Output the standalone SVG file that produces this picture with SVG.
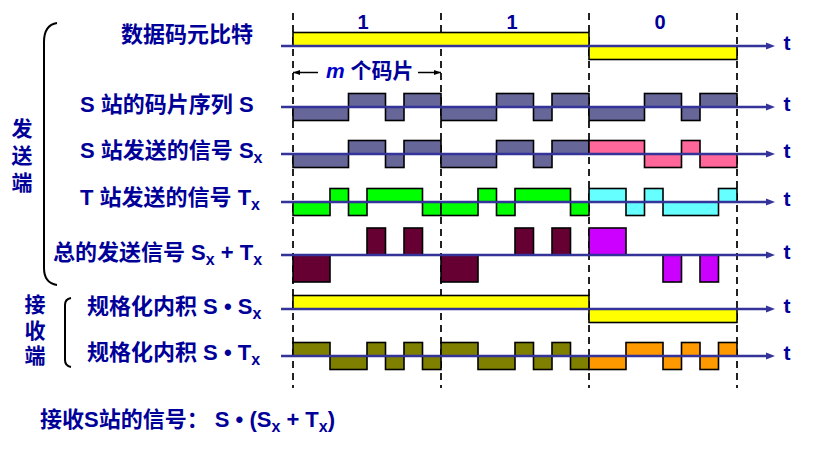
<svg xmlns="http://www.w3.org/2000/svg" width="819" height="455" viewBox="0 0 819 455">
<defs>
<marker id="ah" markerWidth="9" markerHeight="8" refX="1" refY="4" orient="auto" markerUnits="userSpaceOnUse"><path d="M0,0.5 L9,4 L0,7.5 z" fill="#333399"/></marker>
<marker id="mk" markerWidth="7" markerHeight="6" refX="7" refY="3" orient="auto" markerUnits="userSpaceOnUse"><path d="M0,0.5 L7,3 L0,5.5 z" fill="#000"/></marker>
<style>
text{font-family:"Liberation Sans","Noto Sans CJK SC",sans-serif;font-weight:bold;fill:#000099;}
.lbl{font-size:22px;}
.sub{font-size:16px;}
.t{font-size:21px;text-anchor:middle;}
.bit{font-size:20px;text-anchor:middle;}
.vt{font-size:21px;text-anchor:middle;}
.axis{stroke:#333399;stroke-width:2.5;marker-end:url(#ah);}
.dash{stroke:#222;stroke-width:2;stroke-dasharray:7 5;}
rect{stroke:#000;stroke-width:1.6;}
.yel{fill:#FFFF00;}
.sl{fill:#666699;}
.pk{fill:#FF6699;}
.gr{fill:#00FF00;}
.cy{fill:#66FFFF;}
.mr{fill:#660033;}
.mg{fill:#CC00FF;}
.ol{fill:#808000;}
.or{fill:#FF9900;}
.br{fill:none;stroke:#000;stroke-width:2;}
</style>
</defs>

<g id="grid">
<line class="dash" x1="293" y1="13" x2="293" y2="388"/>
<line class="dash" x1="441" y1="13" x2="441" y2="388"/>
<line class="dash" x1="589" y1="13" x2="589" y2="388"/>
<line class="dash" x1="737" y1="13" x2="737" y2="388"/>
</g>

<g id="bits">
<text class="bit" x="363" y="29">1</text>
<text class="bit" x="512" y="29">1</text>
<text class="bit" x="660" y="29">0</text>
</g>

<g id="mchips">
<line x1="318" y1="72.5" x2="293" y2="72.5" stroke="#000" stroke-width="1.5" marker-end="url(#mk)"/>
<line x1="418" y1="72.5" x2="441" y2="72.5" stroke="#000" stroke-width="1.5" marker-end="url(#mk)"/>
<text style="font-size:21px" x="326" y="78"><tspan font-style="italic" fill="#0000CC">m</tspan> 个码片</text>
</g>

<g id="row-data">
<rect class="yel" x="293" y="32.5" width="296" height="13.5"/>
<rect class="yel" x="589" y="46" width="148" height="13.5"/>
<text class="lbl" x="121" y="42">数据码元比特</text>
</g>

<g id="row-s">
<rect class="sl" x="293" y="107" width="55.5" height="13.5"/>
<rect class="sl" x="348.5" y="93.5" width="37" height="13.5"/>
<rect class="sl" x="385.5" y="107" width="18.5" height="13.5"/>
<rect class="sl" x="404" y="93.5" width="37" height="13.5"/>
<rect class="sl" x="441" y="107" width="55.5" height="13.5"/>
<rect class="sl" x="496.5" y="93.5" width="37" height="13.5"/>
<rect class="sl" x="533.5" y="107" width="18.5" height="13.5"/>
<rect class="sl" x="552" y="93.5" width="37" height="13.5"/>
<rect class="sl" x="589" y="107" width="55.5" height="13.5"/>
<rect class="sl" x="644.5" y="93.5" width="37" height="13.5"/>
<rect class="sl" x="681.5" y="107" width="18.5" height="13.5"/>
<rect class="sl" x="700" y="93.5" width="37" height="13.5"/>
<text class="lbl" x="80" y="112">S 站的码片序列 S</text>
</g>

<g id="row-sx">
<rect class="sl" x="293" y="154" width="55.5" height="13.5"/>
<rect class="sl" x="348.5" y="140.5" width="37" height="13.5"/>
<rect class="sl" x="385.5" y="154" width="18.5" height="13.5"/>
<rect class="sl" x="404" y="140.5" width="37" height="13.5"/>
<rect class="sl" x="441" y="154" width="55.5" height="13.5"/>
<rect class="sl" x="496.5" y="140.5" width="37" height="13.5"/>
<rect class="sl" x="533.5" y="154" width="18.5" height="13.5"/>
<rect class="sl" x="552" y="140.5" width="37" height="13.5"/>
<rect class="pk" x="589" y="140.5" width="55.5" height="13.5"/>
<rect class="pk" x="644.5" y="154" width="37" height="13.5"/>
<rect class="pk" x="681.5" y="140.5" width="18.5" height="13.5"/>
<rect class="pk" x="700" y="154" width="37" height="13.5"/>
<text class="lbl" x="80" y="158">S 站发送的信号 S<tspan class="sub" dy="5">x</tspan></text>
</g>

<g id="row-tx">
<rect class="gr" x="293" y="202" width="37" height="13.5"/>
<rect class="gr" x="330" y="188.5" width="18.5" height="13.5"/>
<rect class="gr" x="348.5" y="202" width="18.5" height="13.5"/>
<rect class="gr" x="367" y="188.5" width="55.5" height="13.5"/>
<rect class="gr" x="422.5" y="202" width="18.5" height="13.5"/>
<rect class="gr" x="441" y="202" width="37" height="13.5"/>
<rect class="gr" x="478" y="188.5" width="18.5" height="13.5"/>
<rect class="gr" x="496.5" y="202" width="18.5" height="13.5"/>
<rect class="gr" x="515" y="188.5" width="55.5" height="13.5"/>
<rect class="gr" x="570.5" y="202" width="18.5" height="13.5"/>
<rect class="cy" x="589" y="188.5" width="37" height="13.5"/>
<rect class="cy" x="626" y="202" width="18.5" height="13.5"/>
<rect class="cy" x="644.5" y="188.5" width="18.5" height="13.5"/>
<rect class="cy" x="663" y="202" width="55.5" height="13.5"/>
<rect class="cy" x="718.5" y="188.5" width="18.5" height="13.5"/>
<text class="lbl" x="80" y="205">T 站发送的信号 T<tspan class="sub" dy="5">x</tspan></text>
</g>

<g id="row-sum">
<rect class="mr" x="293" y="255" width="37" height="27"/>
<rect class="mr" x="367" y="228" width="18.5" height="27"/>
<rect class="mr" x="404" y="228" width="18.5" height="27"/>
<rect class="mr" x="441" y="255" width="37" height="27"/>
<rect class="mr" x="515" y="228" width="18.5" height="27"/>
<rect class="mr" x="552" y="228" width="18.5" height="27"/>
<rect class="mg" x="589" y="228" width="37" height="27"/>
<rect class="mg" x="663" y="255" width="18.5" height="27"/>
<rect class="mg" x="700" y="255" width="18.5" height="27"/>
<text class="lbl" x="53" y="260">总的发送信号 S<tspan class="sub" dy="5">x</tspan><tspan dy="-5"> + T</tspan><tspan class="sub" dy="5">x</tspan></text>
</g>

<g id="row-ssx">
<rect class="yel" x="293" y="295.5" width="296" height="13.5"/>
<rect class="yel" x="589" y="309" width="148" height="13.5"/>
<text class="lbl" x="87" y="314">规格化内积 S • S<tspan class="sub" dy="5">x</tspan></text>
</g>

<g id="row-stx">
<rect class="ol" x="293" y="342.5" width="37" height="13.5"/>
<rect class="ol" x="330" y="356" width="37" height="13.5"/>
<rect class="ol" x="367" y="342.5" width="18.5" height="13.5"/>
<rect class="ol" x="385.5" y="356" width="18.5" height="13.5"/>
<rect class="ol" x="404" y="342.5" width="18.5" height="13.5"/>
<rect class="ol" x="422.5" y="356" width="18.5" height="13.5"/>
<rect class="ol" x="441" y="342.5" width="37" height="13.5"/>
<rect class="ol" x="478" y="356" width="37" height="13.5"/>
<rect class="ol" x="515" y="342.5" width="18.5" height="13.5"/>
<rect class="ol" x="533.5" y="356" width="18.5" height="13.5"/>
<rect class="ol" x="552" y="342.5" width="18.5" height="13.5"/>
<rect class="ol" x="570.5" y="356" width="18.5" height="13.5"/>
<rect class="or" x="589" y="356" width="37" height="13.5"/>
<rect class="or" x="626" y="342.5" width="37" height="13.5"/>
<rect class="or" x="663" y="356" width="18.5" height="13.5"/>
<rect class="or" x="681.5" y="342.5" width="18.5" height="13.5"/>
<rect class="or" x="700" y="356" width="18.5" height="13.5"/>
<rect class="or" x="718.5" y="342.5" width="18.5" height="13.5"/>
<text class="lbl" x="87" y="360">规格化内积 S • T<tspan class="sub" dy="5">x</tspan></text>
</g>

<g id="connectors">
<line class="axis" x1="281" y1="46" x2="767" y2="46"/>
<line class="axis" x1="281" y1="107" x2="767" y2="107"/>
<line class="axis" x1="281" y1="154" x2="767" y2="154"/>
<line class="axis" x1="281" y1="202" x2="767" y2="202"/>
<line class="axis" x1="281" y1="255" x2="767" y2="255"/>
<line class="axis" x1="281" y1="309" x2="767" y2="309"/>
<line class="axis" x1="281" y1="356" x2="767" y2="356"/>
</g>

<g id="tlabels">
<text class="t" x="787" y="50">t</text>
<text class="t" x="787" y="111">t</text>
<text class="t" x="787" y="158">t</text>
<text class="t" x="787" y="206">t</text>
<text class="t" x="787" y="259">t</text>
<text class="t" x="787" y="313">t</text>
<text class="t" x="787" y="360">t</text>
</g>

<g id="send-side">
<path class="br" d="M57,23 Q44,25 44,42 L44,268 Q44,283 57,285"/>
<text class="vt" x="22" y="136">发</text>
<text class="vt" x="22" y="163">送</text>
<text class="vt" x="22" y="190">端</text>
</g>

<g id="recv-side">
<path class="br" d="M71,298 Q65,299 65,305 L65,360 Q65,366 71,367"/>
<text class="vt" x="35" y="312">接</text>
<text class="vt" x="35" y="338">收</text>
<text class="vt" x="35" y="363">端</text>
</g>

<g id="formula">
<text class="lbl" x="40" y="427">接收S站的信号： S • (S<tspan class="sub" dy="5">x</tspan><tspan dy="-5"> + T</tspan><tspan class="sub" dy="5">x</tspan><tspan dy="-5">)</tspan></text>
</g>
</svg>
